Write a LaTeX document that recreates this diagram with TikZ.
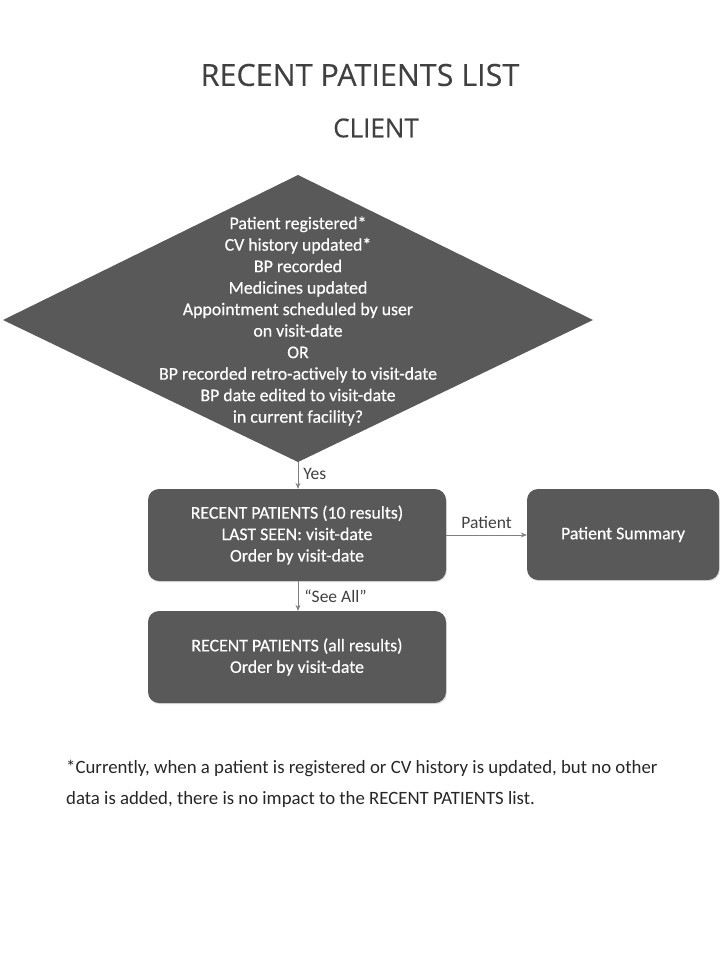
\documentclass[tikz,border=0pt]{standalone}
\usepackage{fontspec}
\setmainfont{Carlito}
\newfontfamily\titlefont[FakeBold=0.3]{Open Sans}
\newfontfamily\shapefont[FakeBold=0.5]{Carlito}
\usetikzlibrary{shapes.geometric,arrows.meta,shadows}
\definecolor{boxgray}{HTML}{595959}
\definecolor{linegray}{HTML}{808080}
\definecolor{txtgray}{HTML}{404040}
\tikzset{
  flowbox/.style={fill=boxgray, rounded corners=11pt, text=white, align=center,
    inner sep=0pt, font=\shapefont\fontsize{17.8}{21.5}\selectfont,
    drop shadow={shadow xshift=0.8pt, shadow yshift=-1.2pt, opacity=0.25}},
  link/.style={draw=linegray, line width=0.8pt, -{Stealth[length=6pt,width=5pt]}},
  linklabel/.style={text=txtgray, font=\fontsize{17.5}{20}\selectfont, inner sep=0pt},
}
\begin{document}
\begin{tikzpicture}[x=1pt,y=-1pt]
\useasboundingbox (0,0) rectangle (720,960);
\node[text=txtgray, font=\titlefont\fontsize{30.5}{36}\selectfont] (title) at (360,75) {RECENT PATIENTS LIST};
\node[text=txtgray, font=\titlefont\fontsize{26}{30}\selectfont] (client) at (376,128) {CLIENT};

\path[fill=boxgray] (298,175) -- (593,320) -- (298,462) -- (3,320) -- cycle;
\coordinate (dbot) at (298,462);
\node[text=white, align=center, inner sep=0pt, font=\shapefont\fontsize{17.8}{21.5}\selectfont] (d) at (298,321)
{Patient registered*\\CV history updated*\\BP recorded\\Medicines updated\\Appointment scheduled by user\\on visit-date\\OR\\BP recorded retro-actively to visit-date\\BP date edited to visit-date\\in current facility?};

\node[flowbox, minimum width=298pt, minimum height=92pt] (b1) at (297,535)
{RECENT PATIENTS (10 results)\\LAST SEEN: visit-date\\Order by visit-date};
\node[flowbox, minimum width=192pt, minimum height=91pt] (b2) at (623,534.5)
{Patient Summary};
\node[flowbox, minimum width=298pt, minimum height=92pt] (b3) at (297,657)
{RECENT PATIENTS (all results)\\Order by visit-date};

\draw[link] (dbot) -- (dbot |- b1.north) node[linklabel, pos=0.45, right=5pt] {Yes};
\draw[link] (b1.east |- 0,535) -- (b2.west |- 0,535) node[linklabel, midway, above=6pt] {Patient};
\draw[link] ([xshift=1pt]b1.south) -- ([xshift=1pt]b3.north) node[linklabel, midway, right=6pt] {“See All”};

\node[anchor=west, text=black!85, align=left, font=\fontsize{18.8}{31}\selectfont, inner sep=0pt] (note) at (66,784)
{*Currently, when a patient is registered or CV history is updated, but no other\\data is added, there is no impact to the RECENT PATIENTS list.};
\end{tikzpicture}
\end{document}
